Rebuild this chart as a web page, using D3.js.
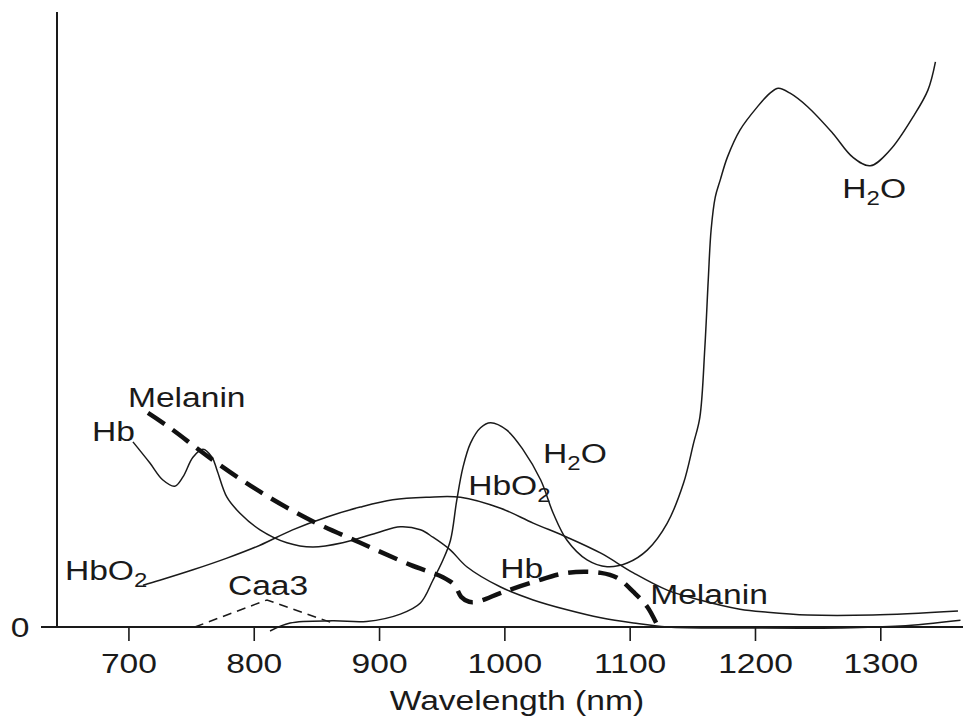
<!DOCTYPE html>
<html>
<head>
<meta charset="utf-8">
<script src="https://cdn.jsdelivr.net/npm/d3@7"></script>
<style>
  body { margin: 0; background: #fff; }
  text { font-family: "Liberation Sans", Arial, sans-serif; fill: #1a1a1a; }
</style>
</head>
<body>
<script>
// wavelength (nm) and relative absorption
let xTicks = [700, 800, 900, 1000, 1100, 1200, 1300];

let water = [
    [813, -0.65], [829, 0.65], [863, 1.0], [890, 0.9], [917, 2.1], [933, 3.9],
    [943, 7.6], [951, 10.9], [957, 14.1], [962, 20.6], [967, 26.0], [973, 29.9],
    [981, 32.4], [989, 33.2], [1002, 32.0], [1015, 28.8], [1029, 23.9],
    [1039, 18.5], [1050, 14.1], [1066, 10.9], [1082, 9.8], [1098, 10.4],
    [1114, 12.5], [1130, 16.9], [1143, 23.4], [1151, 29.9], [1156, 34.1],
    [1160, 45.5], [1162.7, 56.4], [1165, 64.6], [1168.3, 69.9], [1172.3, 72.7],
    [1178, 76.4], [1188, 80.8], [1202, 84.6], [1212, 86.8], [1218.6, 87.6],
    [1228, 86.8], [1242, 84.6], [1262, 80.3], [1278, 76.4], [1292, 75.0],
    [1308, 77.6], [1326, 82.9], [1338, 87.3], [1344, 91.9]
];

let hb = [
    [703.6, 30.1], [717, 26.7], [727.5, 23.9], [737, 22.9], [743.5, 24.4],
    [751.5, 27.6], [759.5, 28.9], [766.7, 27.6], [770.7, 25.5], [778.6, 21.1],
    [789, 18.5], [805, 15.8], [826.5, 13.7], [847, 13.0], [871, 13.7],
    [898, 15.3], [917, 16.3], [933, 15.8], [943, 14.6], [957, 12.5],
    [970, 9.8], [997, 6.5], [1023, 4.4], [1050, 2.8], [1077, 1.5],
    [1103, 0.65], [1130, 0], [1188, -0.16], [1268, -0.16], [1316, 0.15], [1364, 1.1]
];

let hbo2 = [
    [711.6, 6.8], [725, 7.6], [751.5, 9.3], [778.6, 11.2], [805, 13.3],
    [831, 15.8], [858.5, 17.9], [885, 19.5], [911, 20.7], [938, 21.1],
    [965, 21.1], [997, 19.3], [1023, 16.9], [1050, 14.6], [1077, 12.0],
    [1103, 8.8], [1130, 6.0], [1156, 4.4], [1188, 2.9], [1210, 2.4],
    [1242, 1.95], [1294, 1.95], [1362, 2.6]
];

let melanin = [
    [715.6, 34.8], [733, 32.4], [765, 27.5], [805, 22.0], [845, 17.4],
    [885, 13.7], [925, 10.1], [951, 8.1], [960.3, 6.8], [965.5, 4.9],
    [971.9, 4.1], [979.9, 4.2], [996.7, 5.5], [1023, 7.3], [1050, 8.8],
    [1077, 8.8], [1090, 8.0], [1103, 5.7], [1114, 3.3], [1122, 0.3]
];

let caa3 = [[753, 0], [810.6, 4.4], [865, 0.5]];

// curve names placed in data units: [text, subscript, rest, wavelength, value]
let labels = [
    ["Melanin", "", "", 699.6, 35.8],
    ["Hb", "", "", 670.9, 30.2],
    ["HbO", "2", "", 649.3, 7.6],
    ["Caa3", "", "", 779.4, 5.2],
    ["H", "2", "O", 1030.9, 26.7],
    ["HbO", "2", "", 971.1, 21.5],
    ["Hb", "", "", 996.7, 8.0],
    ["Melanin", "", "", 1116.4, 3.7],
    ["H", "2", "O", 1269.7, 69.8]
];

let w = 963,
    h = 721,
    stretch = 1.2;

let svg = d3.select("body")
    .append("svg")
    .attr("width", w)
    .attr("height", h);

let x = d3.scaleLinear()
    .domain([643, 1366])
    .range([57, 963]);

let y = d3.scaleLinear()
    .domain([0, 100])
    .range([627, 12]);

let line = d3.line()
    .x(function(d) { return x(d[0]); })
    .y(function(d) { return y(d[1]); })
    .curve(d3.curveCatmullRom.alpha(0.5));

// x axis
let xAxis = svg.append("g")
    .attr("transform", "translate(0," + y(0) + ")")
    .call(d3.axisBottom(x)
        .tickValues(xTicks)
        .tickFormat(d3.format("d"))
        .tickSize(14)
        .tickSizeOuter(0)
        .tickPadding(12));

xAxis.select(".domain").remove();
xAxis.selectAll(".tick line")
    .attr("stroke", "#1a1a1a")
    .attr("stroke-width", 1.6);
xAxis.selectAll(".tick text")
    .attr("font-size", 28)
    .attr("font-family", "Liberation Sans, Arial, sans-serif")
    .attr("fill", "#1a1a1a")
    .attr("transform", "scale(" + stretch + ",1)");

// baseline reaches a bit left of the y axis, like a tick for the 0
svg.append("line")
    .attr("x1", x.range()[0] - 16)
    .attr("x2", x.range()[1])
    .attr("y1", y(0))
    .attr("y2", y(0))
    .attr("stroke", "#1a1a1a")
    .attr("stroke-width", 1.8);

// y axis
svg.append("line")
    .attr("x1", x.range()[0])
    .attr("x2", x.range()[0])
    .attr("y1", y.range()[1])
    .attr("y2", y(0))
    .attr("stroke", "#1a1a1a")
    .attr("stroke-width", 2);

svg.append("text")
    .attr("text-anchor", "middle")
    .attr("font-size", 28)
    .attr("transform", "translate(20," + (y(0) + 10) + ") scale(" + stretch + ",1)")
    .text("0");

// curves
let solid = [water, hb, hbo2];
svg.selectAll(".curve")
    .data(solid)
    .enter()
    .append("path")
    .attr("class", "curve")
    .attr("d", line)
    .attr("fill", "none")
    .attr("stroke", "#1a1a1a")
    .attr("stroke-width", 1.5);

svg.append("path")
    .datum(melanin)
    .attr("d", line)
    .attr("fill", "none")
    .attr("stroke", "#111")
    .attr("stroke-width", 4.5)
    .attr("stroke-dasharray", "20,10");

svg.append("path")
    .datum(caa3)
    .attr("d", line.curve(d3.curveLinear))
    .attr("fill", "none")
    .attr("stroke", "#1a1a1a")
    .attr("stroke-width", 1.5)
    .attr("stroke-dasharray", "9,6");

// curve labels
let names = svg.selectAll(".names")
    .data(labels)
    .enter()
    .append("text")
    .attr("class", "names")
    .attr("font-size", 28)
    .attr("transform", function(d) {
        return "translate(" + x(d[3]) + "," + y(d[4]) + ") scale(" + stretch + ",1)";
    });

names.append("tspan").text(function(d) { return d[0]; });
names.append("tspan")
    .attr("font-size", 20)
    .attr("dy", 7)
    .text(function(d) { return d[1]; });
names.append("tspan")
    .attr("dy", function(d) { return d[1] ? -7 : 0; })
    .text(function(d) { return d[2]; });

// axis title
svg.append("text")
    .attr("text-anchor", "middle")
    .attr("font-size", 28)
    .attr("transform", "translate(" + x(1010) + ",710) scale(" + stretch + ",1)")
    .text("Wavelength (nm)");
</script>
</body>
</html>
